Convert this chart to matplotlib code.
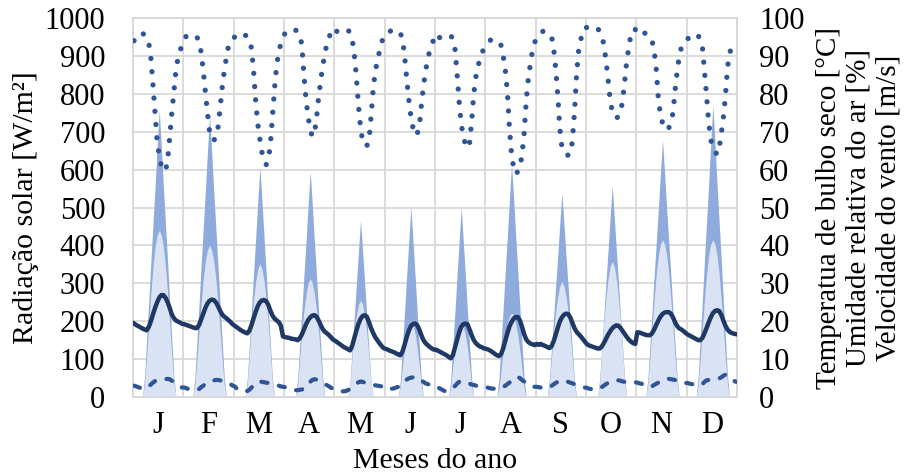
import matplotlib
matplotlib.use("Agg")
import matplotlib.pyplot as plt
import numpy as np

plt.rcParams['font.family'] = ['Liberation Serif', 'DejaVu Serif']

months = ["J", "F", "M", "A", "M", "J", "J", "A", "S", "O", "N", "D"]

# hourly profiles (h0..h23) for a typical day of each month
rad_global = [
    [0, 0, 0, 0, 0, 53, 152, 250, 356, 455, 553, 659, 758, 659, 553, 455, 356, 250, 152, 53, 0, 0, 0, 0],
    [0, 0, 0, 0, 0, 52, 149, 246, 350, 447, 544, 648, 745, 648, 544, 447, 350, 246, 149, 52, 0, 0, 0, 0],
    [0, 0, 0, 0, 0, 0, 49, 140, 231, 328, 420, 517, 608, 517, 420, 328, 231, 140, 49, 0, 0, 0, 0, 0],
    [0, 0, 0, 0, 0, 0, 48, 137, 226, 321, 411, 506, 595, 506, 411, 321, 226, 137, 48, 0, 0, 0, 0, 0],
    [0, 0, 0, 0, 0, 0, 0, 42, 126, 210, 299, 383, 467, 383, 299, 210, 126, 42, 0, 0, 0, 0, 0, 0],
    [0, 0, 0, 0, 0, 0, 0, 45, 136, 226, 321, 412, 502, 412, 321, 226, 136, 45, 0, 0, 0, 0, 0, 0],
    [0, 0, 0, 0, 0, 0, 0, 45, 135, 225, 320, 410, 500, 410, 320, 225, 135, 45, 0, 0, 0, 0, 0, 0],
    [0, 0, 0, 0, 0, 0, 49, 141, 234, 332, 424, 523, 615, 523, 424, 332, 234, 141, 49, 0, 0, 0, 0, 0],
    [0, 0, 0, 0, 0, 0, 43, 124, 204, 291, 371, 457, 538, 457, 371, 291, 204, 124, 43, 0, 0, 0, 0, 0],
    [0, 0, 0, 0, 0, 0, 45, 128, 212, 301, 385, 474, 558, 474, 385, 301, 212, 128, 45, 0, 0, 0, 0, 0],
    [0, 0, 0, 0, 0, 47, 136, 224, 319, 407, 495, 590, 678, 590, 495, 407, 319, 224, 136, 47, 0, 0, 0, 0],
    [0, 0, 0, 0, 0, 54, 154, 254, 362, 462, 562, 670, 770, 670, 562, 462, 362, 254, 154, 54, 0, 0, 0, 0],
]
rad_diffuse = [
    [0, 0, 0, 0, 0, 35, 110, 194, 273, 343, 396, 427, 440, 427, 396, 343, 273, 194, 110, 35, 0, 0, 0, 0],
    [0, 0, 0, 0, 0, 32, 100, 176, 248, 312, 360, 388, 400, 388, 360, 312, 248, 176, 100, 32, 0, 0, 0, 0],
    [0, 0, 0, 0, 0, 0, 35, 116, 194, 257, 306, 338, 352, 338, 306, 257, 194, 116, 35, 0, 0, 0, 0, 0],
    [0, 0, 0, 0, 0, 0, 31, 103, 172, 228, 272, 300, 313, 300, 272, 228, 172, 103, 31, 0, 0, 0, 0, 0],
    [0, 0, 0, 0, 0, 0, 0, 38, 108, 169, 215, 243, 256, 243, 215, 169, 108, 38, 0, 0, 0, 0, 0, 0],
    [0, 0, 0, 0, 0, 0, 0, 30, 84, 132, 168, 190, 200, 190, 168, 132, 84, 30, 0, 0, 0, 0, 0, 0],
    [0, 0, 0, 0, 0, 0, 0, 29, 82, 129, 164, 185, 195, 185, 164, 129, 82, 29, 0, 0, 0, 0, 0, 0],
    [0, 0, 0, 0, 0, 0, 22, 73, 122, 162, 193, 213, 222, 213, 193, 162, 122, 73, 22, 0, 0, 0, 0, 0],
    [0, 0, 0, 0, 0, 0, 31, 101, 168, 223, 265, 293, 305, 293, 265, 223, 168, 101, 31, 0, 0, 0, 0, 0],
    [0, 0, 0, 0, 0, 0, 36, 118, 197, 261, 311, 344, 358, 344, 311, 261, 197, 118, 36, 0, 0, 0, 0, 0],
    [0, 0, 0, 0, 0, 33, 104, 183, 257, 324, 374, 403, 415, 403, 374, 324, 257, 183, 104, 33, 0, 0, 0, 0],
    [0, 0, 0, 0, 0, 33, 104, 183, 257, 324, 374, 403, 415, 403, 374, 324, 257, 183, 104, 33, 0, 0, 0, 0],
]
temperature = [
    [19.4, 19.0, 18.7, 18.4, 18.1, 17.8, 17.6, 18.5, 20.0, 21.8, 23.5, 25.0, 26.2, 26.9, 26.9, 26.2, 25.0, 23.5, 21.8, 20.8, 20.2, 19.9, 19.6, 19.3],
    [19.2, 19.0, 18.8, 18.6, 18.4, 18.2, 18.2, 19.0, 20.5, 22.0, 23.5, 24.7, 25.4, 25.7, 25.6, 25.0, 24.0, 22.8, 21.8, 21.2, 20.8, 20.3, 19.8, 19.2],
    [18.8, 18.4, 18.0, 17.6, 17.3, 17.0, 16.8, 17.5, 19.0, 20.8, 22.5, 24.0, 25.0, 25.5, 25.6, 25.3, 24.3, 22.8, 21.5, 20.7, 20.2, 19.8, 18.8, 16.0],
    [15.8, 15.7, 15.6, 15.4, 15.3, 15.2, 15.0, 15.5, 16.5, 17.8, 19.2, 20.3, 21.0, 21.5, 21.6, 21.2, 20.2, 19.0, 17.9, 17.2, 16.8, 16.3, 15.7, 15.1],
    [14.8, 14.4, 14.0, 13.6, 13.2, 12.9, 12.6, 12.3, 13.5, 15.5, 17.5, 19.3, 20.6, 21.4, 21.6, 21.2, 19.8, 18.2, 16.9, 15.8, 15.0, 14.2, 13.5, 12.9],
    [12.7, 12.5, 12.2, 12.0, 11.8, 11.5, 11.2, 11.0, 12.0, 13.8, 15.8, 17.5, 18.7, 19.3, 19.4, 19.0, 17.8, 16.3, 15.0, 14.2, 13.7, 13.2, 12.8, 12.5],
    [12.5, 12.2, 11.9, 11.6, 11.3, 11.0, 10.6, 10.2, 11.0, 13.0, 15.0, 17.0, 18.5, 19.2, 19.4, 19.2, 17.8, 16.3, 15.0, 14.2, 13.7, 13.3, 13.1, 12.8],
    [12.7, 12.5, 12.2, 11.8, 11.4, 11.0, 10.8, 11.3, 12.8, 14.8, 16.8, 18.6, 19.8, 20.7, 21.1, 21.1, 20.2, 18.5, 16.6, 15.2, 14.5, 14.1, 13.9, 13.7],
    [14.0, 13.8, 14.0, 13.7, 13.5, 13.2, 12.9, 13.3, 14.6, 16.3, 18.2, 19.9, 21.0, 21.7, 22.0, 21.9, 21.0, 19.6, 18.2, 17.2, 16.6, 16.0, 15.3, 14.6],
    [13.9, 13.6, 13.4, 13.2, 13.0, 12.8, 12.8, 13.3, 14.2, 15.3, 16.4, 17.3, 18.1, 18.6, 18.9, 18.8, 18.2, 17.4, 16.6, 15.8, 15.1, 14.6, 14.2, 14.0],
    [17.1, 17.0, 16.8, 16.6, 16.4, 16.3, 16.3, 16.8, 17.8, 19.0, 20.2, 21.2, 21.9, 22.3, 22.4, 22.4, 22.0, 21.0, 19.7, 18.7, 18.1, 17.8, 17.4, 16.9],
    [16.5, 16.2, 15.9, 15.6, 15.3, 15.0, 15.0, 15.6, 16.8, 18.2, 19.7, 21.0, 22.1, 22.7, 22.9, 22.7, 21.7, 20.2, 18.8, 17.8, 17.2, 16.9, 16.7, 16.6],
]
humidity = [
    [94.0, 95.0, 95.5, 96.0, 96.0, 95.5, 95.0, 93.5, 89.5, 82.5, 75.0, 67.5, 63.5, 61.0, 60.0, 59.6, 62.5, 68.5, 75.0, 80.5, 86.5, 89.5, 91.5, 93.0],
    [94.5, 95.3, 95.6, 95.6, 95.5, 95.3, 95.0, 93.5, 91.0, 86.0, 80.5, 75.0, 70.0, 68.0, 67.7, 68.5, 71.0, 76.0, 81.5, 86.0, 89.5, 92.5, 94.0, 94.5],
    [95.0, 95.5, 95.8, 96.0, 96.0, 95.5, 95.0, 94.3, 92.0, 86.0, 78.0, 72.0, 68.0, 64.5, 62.5, 61.3, 62.5, 66.5, 74.0, 81.5, 87.5, 91.0, 93.3, 94.8],
    [96.0, 96.5, 96.9, 97.0, 97.0, 96.8, 96.5, 95.5, 93.0, 85.0, 78.5, 74.0, 70.5, 68.7, 69.5, 73.5, 79.0, 83.5, 87.5, 90.5, 93.5, 95.0, 96.2, 96.9],
    [96.0, 96.7, 96.9, 97.0, 97.0, 97.0, 96.9, 96.0, 94.5, 90.5, 84.5, 77.0, 71.0, 67.5, 66.3, 66.3, 67.5, 74.0, 81.0, 86.0, 88.5, 91.2, 93.5, 95.0],
    [95.8, 96.3, 96.5, 96.7, 96.8, 96.8, 96.7, 96.0, 94.5, 90.0, 84.0, 78.5, 74.0, 71.0, 69.0, 69.5, 71.0, 77.0, 82.0, 86.0, 89.0, 91.5, 93.0, 94.5],
    [93.5, 94.5, 95.0, 95.3, 95.4, 95.4, 95.4, 95.4, 94.5, 92.0, 85.5, 78.0, 72.0, 69.0, 66.5, 65.7, 67.0, 73.0, 80.0, 84.5, 87.0, 89.8, 91.0, 92.0],
    [92.8, 93.5, 94.2, 94.5, 94.3, 93.8, 93.3, 92.8, 90.0, 86.5, 80.5, 71.0, 64.0, 60.5, 58.8, 59.5, 60.5, 64.0, 69.5, 78.0, 84.0, 88.0, 91.5, 93.5],
    [94.8, 95.5, 96.2, 96.5, 96.4, 96.2, 95.8, 95.3, 92.5, 87.0, 80.0, 71.0, 66.0, 64.6, 63.9, 63.8, 64.0, 67.5, 75.0, 85.0, 91.5, 94.3, 96.3, 97.5],
    [97.5, 97.7, 97.8, 97.8, 97.6, 97.3, 96.5, 95.5, 93.0, 89.0, 84.0, 78.5, 75.5, 74.0, 73.6, 74.0, 75.0, 78.5, 83.5, 89.0, 92.5, 96.0, 97.0, 97.0],
    [95.6, 95.8, 96.0, 96.0, 96.0, 95.5, 95.0, 94.0, 91.5, 86.5, 78.7, 74.5, 72.3, 71.0, 70.4, 71.0, 72.5, 75.0, 81.0, 86.0, 90.0, 92.3, 93.4, 94.2],
    [94.5, 95.0, 95.5, 95.8, 95.8, 95.3, 94.5, 92.5, 86.0, 79.5, 72.5, 68.0, 65.5, 64.8, 64.0, 65.5, 69.5, 73.5, 79.5, 87.0, 91.0, 91.8, 92.0, 92.0],
]
wind = [
    [3.0, 2.8, 2.6, 2.4, 2.3, 2.2, 2.3, 2.8, 3.3, 3.8, 4.2, 4.4, 4.5, 4.5, 4.6, 4.7, 4.8, 4.7, 4.3, 3.8, 3.4, 3.0, 2.7, 2.5],
    [2.5, 2.3, 2.1, 2.0, 1.9, 1.8, 1.8, 2.1, 2.6, 3.0, 3.4, 3.7, 4.0, 4.2, 4.4, 4.5, 4.5, 4.4, 4.3, 4.1, 3.9, 3.7, 3.4, 3.0],
    [2.8, 2.2, 1.8, 1.6, 1.5, 1.5, 1.6, 1.9, 2.5, 3.2, 3.7, 4.0, 4.1, 4.0, 3.9, 3.8, 3.7, 3.6, 3.5, 3.3, 3.1, 3.0, 2.8, 2.7],
    [2.6, 2.4, 2.2, 2.0, 1.9, 1.8, 1.8, 1.9, 2.0, 2.2, 2.6, 3.3, 4.0, 4.5, 4.7, 4.6, 4.3, 4.0, 3.7, 3.4, 3.1, 2.8, 2.4, 2.2],
    [2.0, 1.7, 1.5, 1.5, 1.5, 1.6, 1.8, 2.2, 2.6, 3.0, 3.5, 3.9, 4.1, 4.0, 3.8, 3.6, 3.5, 3.4, 3.3, 3.1, 3.0, 2.9, 2.8, 2.7],
    [2.9, 2.5, 2.2, 2.2, 2.3, 2.5, 2.7, 3.0, 3.4, 4.0, 4.6, 4.9, 5.1, 5.2, 5.3, 5.1, 4.8, 4.4, 4.0, 3.6, 3.4, 3.3, 3.3, 3.2],
    [2.8, 2.5, 2.2, 1.9, 1.6, 1.5, 1.7, 2.0, 2.4, 2.9, 3.5, 4.0, 4.2, 4.1, 3.9, 3.7, 3.5, 3.3, 3.2, 3.0, 2.9, 2.9, 2.8, 2.7],
    [2.6, 2.4, 2.3, 2.2, 2.2, 2.1, 2.1, 2.3, 2.6, 3.0, 3.4, 3.8, 4.3, 4.8, 5.2, 5.3, 5.0, 4.5, 4.1, 3.7, 3.3, 3.0, 2.8, 2.7],
    [2.7, 2.6, 2.5, 2.4, 2.4, 2.4, 2.6, 2.9, 3.3, 3.7, 4.0, 4.3, 4.4, 4.3, 4.2, 4.0, 3.8, 3.6, 3.4, 3.2, 3.0, 2.8, 2.6, 2.5],
    [2.4, 2.2, 2.1, 2.0, 2.0, 2.1, 2.3, 2.6, 3.0, 3.4, 3.7, 4.0, 4.2, 4.3, 4.4, 4.4, 4.3, 4.1, 4.0, 3.9, 3.9, 3.9, 3.9, 3.9],
    [3.8, 3.6, 3.5, 3.3, 3.1, 2.8, 2.6, 2.8, 3.2, 3.5, 3.8, 4.1, 4.4, 4.6, 4.7, 4.8, 4.7, 4.6, 4.5, 4.4, 4.2, 4.0, 3.8, 3.7],
    [3.7, 3.5, 3.4, 3.3, 3.2, 3.1, 3.1, 3.4, 4.0, 4.4, 4.5, 4.6, 4.7, 4.8, 4.8, 4.9, 5.2, 5.6, 5.9, 5.6, 5.0, 4.7, 4.3, 4.0],
]

glob = np.concatenate(rad_global)
diff = np.concatenate(rad_diffuse)
temp = np.concatenate(temperature)
hum = np.concatenate(humidity)
vel = np.concatenate(wind)
x = np.arange(len(glob))

fig = plt.figure(figsize=(9.18, 4.74), dpi=100)
ax = fig.add_subplot(111)
fig.subplots_adjust(left=0.1449, right=0.8028, top=0.962, bottom=0.1624)

ax.fill_between(x, 0, glob, color="#8FAADC", lw=0, zorder=2)
ax.fill_between(x, 0, diff, color="#DAE3F3", lw=0, zorder=3)
ax.set_ylim(0, 1000)
ax.set_xlim(-0.5, len(x) - 0.5)
ax.set_yticks(np.arange(0, 1001, 100))
ax.set_xticks(np.arange(12) * 24 + 11.5)
ax.set_xticklabels(months)
ax.set_xticks(np.arange(13) * 24 - 0.5, minor=True)
ax.grid(True, which="minor", axis="x", color="#D9D9D9", lw=1.3)
ax.grid(True, which="major", axis="y", color="#D9D9D9", lw=1.3)
ax.set_axisbelow(True)
ax.tick_params(which="both", length=0, labelsize=22)
ax.tick_params(axis="y", pad=20)
ax.tick_params(axis="x", pad=10)
ax.set_ylabel("Radiação solar [W/m²]", fontsize=21.5, labelpad=4)
ax.set_xlabel("Meses do ano", fontsize=21.5, labelpad=6)
for s in ax.spines.values():
    s.set_color("#D9D9D9")
    s.set_linewidth(1.3)

ax2 = ax.twinx()
ax2.plot(x, temp, color="#1F3864", lw=3.2, solid_joinstyle="round", zorder=5)
ax2.plot(x, hum, color="#2F5597", lw=3.8, linestyle=(0, (0.01, 2.5)),
         dash_capstyle="round", zorder=5)
ax2.plot(x, vel, color="#2F5597", lw=3.0, linestyle=(0, (1.5, 2.8)),
         dash_capstyle="round", zorder=5)
ax2.set_ylim(0, 100)
ax2.set_yticks(np.arange(0, 101, 10))
ax2.tick_params(length=0, labelsize=22, pad=16)
ax2.set_ylabel("Temperatua de bulbo seco [°C]\nUmidade relativa do ar [%]\nVelocidade do vento [m/s]",
               fontsize=21, linespacing=1.2, labelpad=8)
for s in ax2.spines.values():
    s.set_color("#D9D9D9")
    s.set_linewidth(1.3)

plt.savefig("out.png", dpi=100)
